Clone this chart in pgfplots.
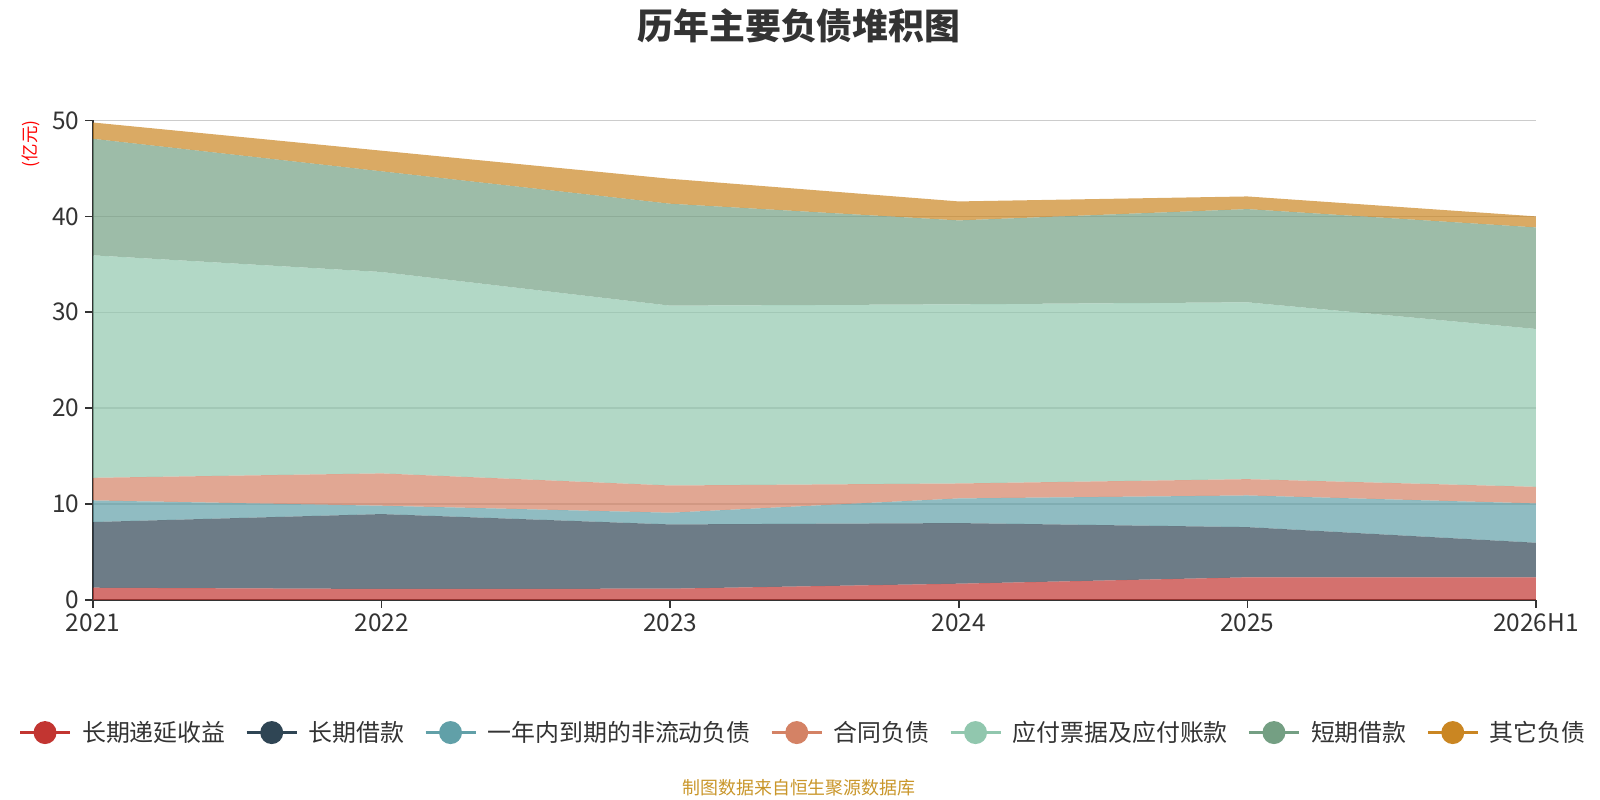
\documentclass[border=0pt]{standalone}
\usepackage{fontspec}
\setmainfont{Noto Sans CJK SC}
\usepackage{pgfplots}
\usepackage{pgfplotstable}
\pgfplotsset{compat=1.18}
\definecolor{c1}{HTML}{C23531}
\definecolor{c2}{HTML}{2F4554}
\definecolor{c3}{HTML}{61A0A8}
\definecolor{c4}{HTML}{D48265}
\definecolor{c5}{HTML}{91C7AE}
\definecolor{c6}{HTML}{749F83}
\definecolor{c7}{HTML}{CA8622}
\definecolor{txt}{HTML}{333333}
\definecolor{src}{HTML}{C9962A}
\pgfplotstableread{
x s1 s2 s3 s4 s5 s6 s7
0 1.28 6.85 2.25 2.36 23.20 12.15 1.70
1 1.15 7.81 0.87 3.37 21.00 10.50 2.15
2 1.18 6.70 1.22 2.84 18.75 10.63 2.60
3 1.70 6.32 2.57 1.56 18.68 8.75 1.98
4 2.36 5.24 3.30 1.70 18.44 9.72 1.32
5 2.36 3.61 4.10 1.73 16.46 10.59 1.15
}\datatable
\pgfplotsset{
  legimg/.style={legend image code/.code={
    \draw[#1,line width=2.2bp,opacity=1] (0bp,0bp)--(50bp,0bp);
    \fill[#1,opacity=1] (25bp,0bp) circle (11.5bp);}},
  ar/.style={fill=#1, fill opacity=0.7, draw=none, legimg=#1}
}
\begin{document}
\begin{tikzpicture}[x=1bp,y=1bp]
\begin{axis}[
  at={(93bp,200bp)}, anchor=south west,
  scale only axis, width=1443bp, height=479.5bp,
  xmin=0, xmax=5, ymin=0, ymax=50,
  stack plots=y,
  axis x line=bottom, axis y line=left,
  axis line style={-, txt, line width=1.6bp},
  xtick={0,1,2,3,4,5},
  xticklabels={2021,2022,2023,2024,2025,2026H1},
  ytick={0,10,20,30,40,50},
  tick align=outside,
  major tick length=8bp,
  tick style={txt, line width=1.6bp},
  ymajorgrids,
  grid style={line width=1.5bp, color=black!20},
  /pgf/number format/assume math mode=true,
  ticklabel style={font=\fontsize{24.5}{28}\selectfont, text=txt},
  xticklabel style={yshift=-2bp},
  yticklabel style={xshift=-2bp},
  legend columns=-1,
  legend style={at={(0.4922,-0.2765)}, anchor=center, draw=none, fill=none,
    font=\fontsize{24}{28}\selectfont, text=txt,
    /tikz/every even column/.append style={column sep=18bp},
    /tikz/every odd column/.append style={column sep=9bp}},
  legend cell align=left,
]
\addplot[ar=c1] table[x=x,y=s1]{\datatable} \closedcycle;
\addlegendentry{长期递延收益}
\addplot[ar=c2] table[x=x,y=s2]{\datatable} \closedcycle;
\addlegendentry{长期借款}
\addplot[ar=c3] table[x=x,y=s3]{\datatable} \closedcycle;
\addlegendentry{一年内到期的非流动负债}
\addplot[ar=c4] table[x=x,y=s4]{\datatable} \closedcycle;
\addlegendentry{合同负债}
\addplot[ar=c5] table[x=x,y=s5]{\datatable} \closedcycle;
\addlegendentry{应付票据及应付账款}
\addplot[ar=c6] table[x=x,y=s6]{\datatable} \closedcycle;
\addlegendentry{短期借款}
\addplot[ar=c7] table[x=x,y=s7]{\datatable} \closedcycle;
\addlegendentry{其它负债}
\end{axis}
\node[font=\fontsize{36}{42}\selectfont\bfseries, text=txt] at (799,774.5) {历年主要负债堆积图};
\node[font=\fontsize{17.5}{20}\selectfont, text=red, rotate=90] at (30.6,656) {(亿元)};
\node[font=\fontsize{18}{21}\selectfont, text=src] at (799,12) {制图数据来自恒生聚源数据库};
\pgfresetboundingbox
\useasboundingbox (0,0) rectangle (1600,800);
\end{tikzpicture}
\end{document}
